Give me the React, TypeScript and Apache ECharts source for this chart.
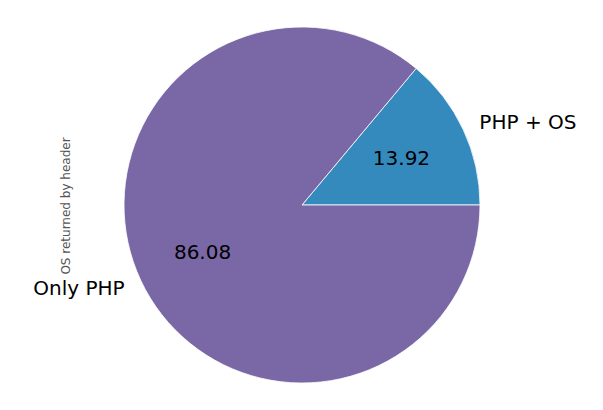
import React, { useEffect, useRef } from "react";
import * as echarts from "echarts";

// slice names and shares (%)
const categories = ["PHP + OS", "Only PHP"];
const shares = [13.92, 86.08];
const sliceColors = ["#348ABD", "#7A68A6"];
const yAxisTitle = "OS returned by header";

const FONT = "DejaVu Sans, sans-serif";
const R = 178; // pie radius, px

const App: React.FC = () => {
  const chartRef = useRef<HTMLDivElement>(null);

  useEffect(() => {
    if (!chartRef.current) return;
    const chart = echarts.init(chartRef.current, undefined, { renderer: "svg" });

    const pieData = categories.map((name, i) => ({
      name,
      value: shares[i],
      itemStyle: { color: sliceColors[i] },
    }));

    const option = {
      animation: false,
      backgroundColor: "#ffffff",
      graphic: [
        {
          type: "text",
          x: 66,
          y: 206,
          rotation: Math.PI / 2,
          style: {
            text: yAxisTitle,
            font: `12px ${FONT}`,
            fill: "#555555",
            align: "center",
            verticalAlign: "middle",
          },
        },
      ],
      series: [
        {
          // slices + outer name labels
          type: "pie",
          center: [302, 205],
          radius: [0, R],
          startAngle: 0,
          clockwise: false,
          avoidLabelOverlap: false,
          silent: true,
          data: pieData,
          itemStyle: { borderColor: "#ffffff", borderWidth: 0.8 },
          label: {
            show: true,
            position: "outside",
            formatter: "{b}",
            fontFamily: FONT,
            fontSize: 20,
            color: "#000000",
            distanceToLabelLine: 0,
          },
          labelLine: { show: false, length: R * 0.1, length2: 0 },
        },
        {
          // transparent ring used only to place the value labels at 0.6 R
          type: "pie",
          center: [302, 205],
          radius: [0, R * 1.2],
          startAngle: 0,
          clockwise: false,
          silent: true,
          z: 3,
          data: categories.map((name, i) => ({ name, value: shares[i] })),
          itemStyle: { color: "rgba(0,0,0,0)" },
          label: {
            show: true,
            position: "inside",
            formatter: (p: any) => p.value.toFixed(2),
            fontFamily: FONT,
            fontSize: 20,
            color: "#000000",
          },
          labelLine: { show: false },
        },
      ],
    };

    chart.setOption(option);
    return () => chart.dispose();
  }, []);

  return (
    <div
      ref={chartRef}
      style={{ position: "absolute", left: 0, top: 0, width: 603, height: 410 }}
    />
  );
};

export default App;
